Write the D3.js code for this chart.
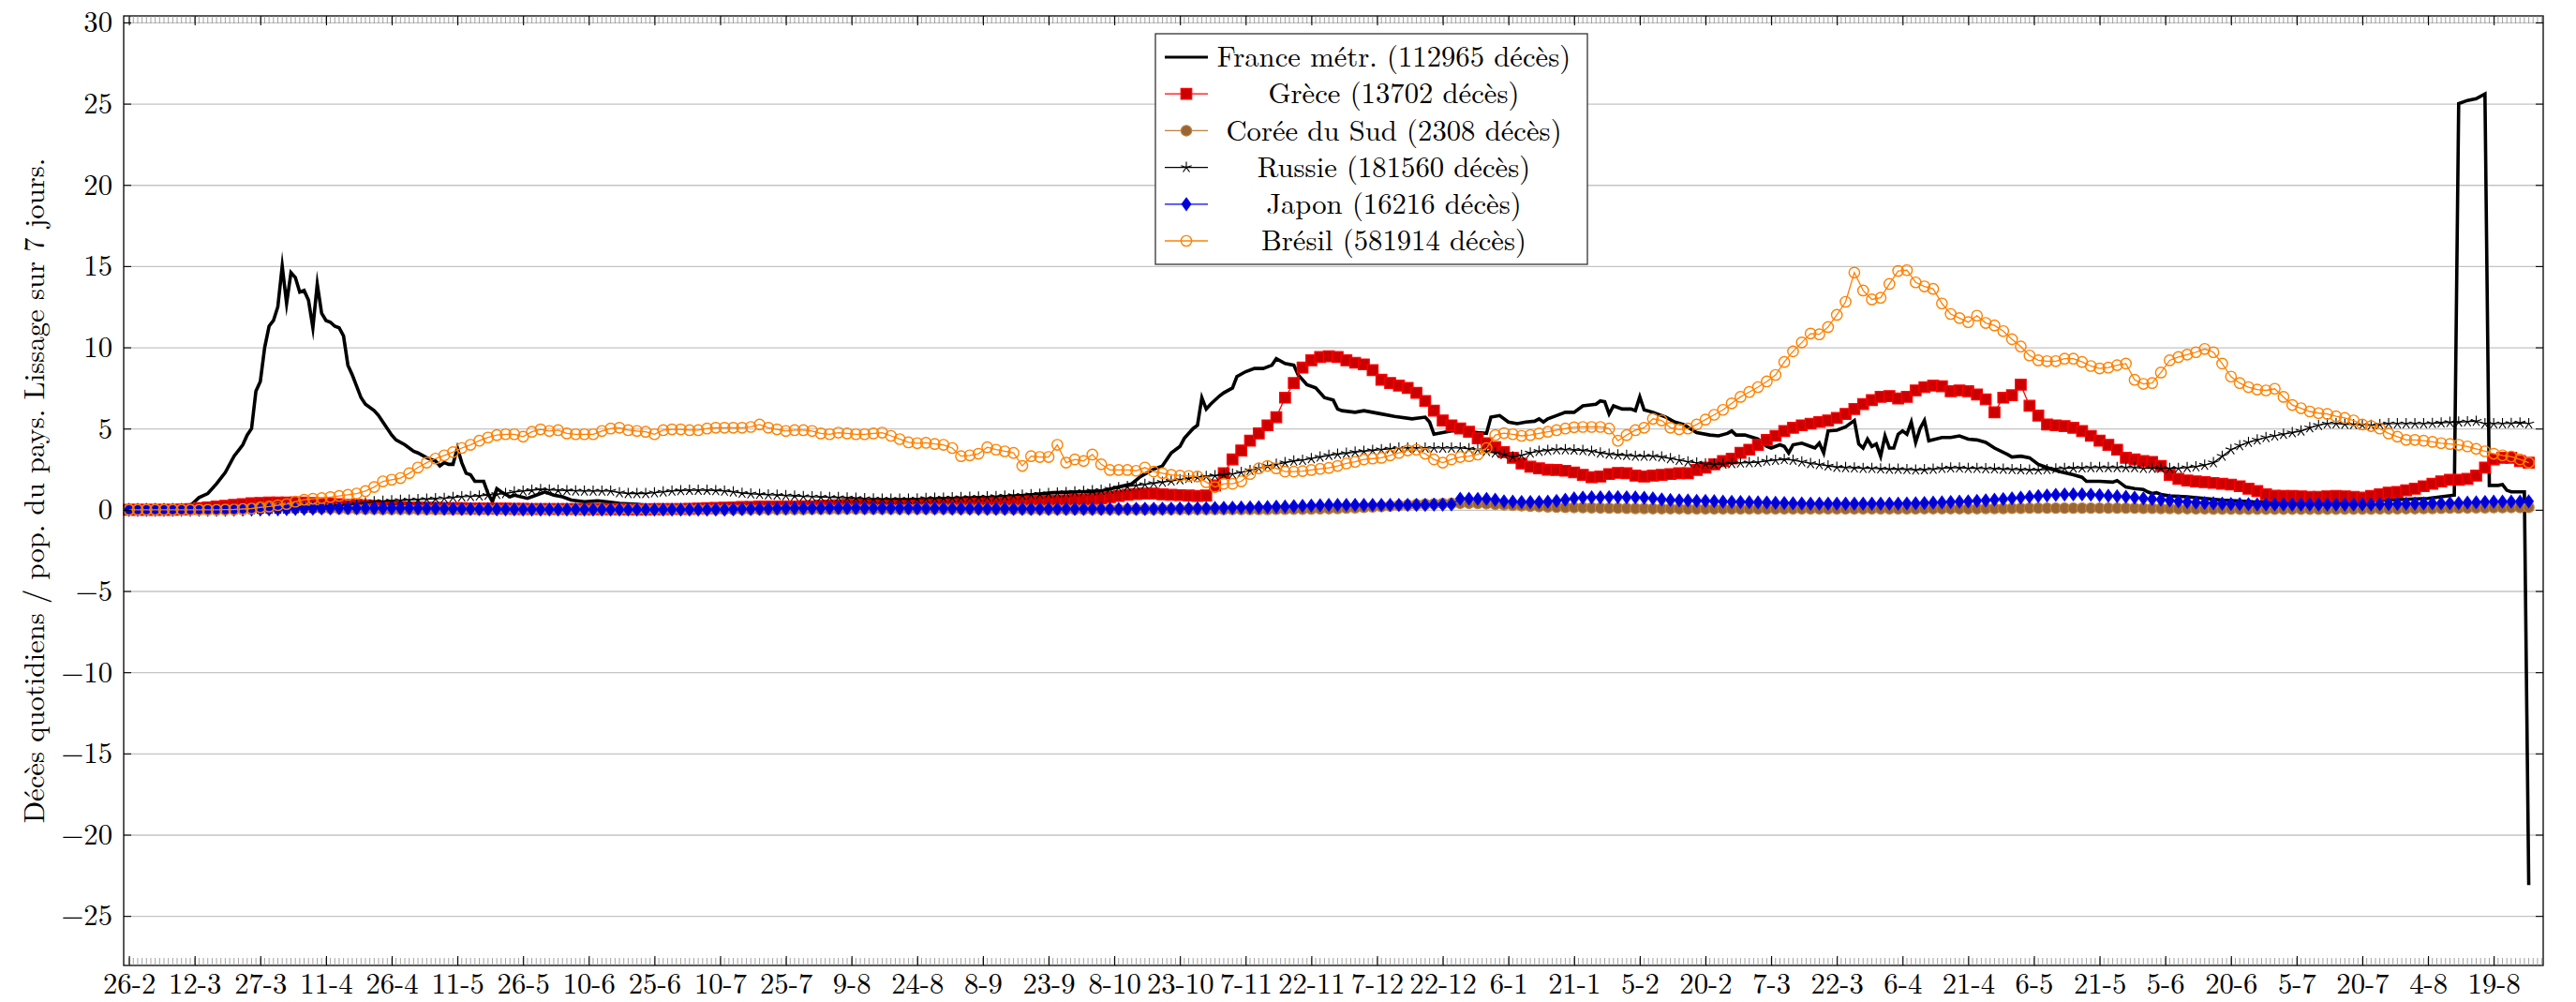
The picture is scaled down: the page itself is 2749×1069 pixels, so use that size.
<!DOCTYPE html>
<html>
<head>
<meta charset="utf-8">
<script src="https://cdn.jsdelivr.net/npm/d3@7/dist/d3.min.js"></script>
<style>
body { margin: 0; background: #fff; }
</style>
</head>
<body>
<div id="graph"></div>
<script>
const WIDTH = 2749
const HEIGHT = 1069
const LEFT = 132
const RIGHT = 2714
const TOP = 17
const BOTTOM = 1030
const FONT = 30.7
const FAMILY = '"Latin Modern Roman", "Liberation Serif", serif'
const STEP = 2

const xTickLabels = ['26-2', '12-3', '27-3', '11-4', '26-4', '11-5', '26-5', '10-6', '25-6', '10-7', '25-7', '9-8', '24-8',
    '8-9', '23-9', '8-10', '23-10', '7-11', '22-11', '7-12', '22-12', '6-1', '21-1', '5-2', '20-2', '7-3', '22-3', '6-4',
    '21-4', '6-5', '21-5', '5-6', '20-6', '5-7', '20-7', '4-8', '19-8']
const yTicks = [-25, -20, -15, -10, -5, 0, 5, 10, 15, 20, 25, 30]
const yLabel = 'Décès quotidiens / pop. du pays. Lissage sur 7 jours.'
const names = ['France métr. (112965 décès)', 'Grèce (13702 décès)', 'Corée du Sud (2308 décès)',
    'Russie (181560 décès)', 'Japon (16216 décès)', 'Brésil (581914 décès)']

// France: [day since 26-2-2020, value]
const france = [[0, 0], [12, 0.02], [14, 0.25], [16, 0.75], [18, 1.0], [20, 1.6], [22, 2.3], [24, 3.3], [26, 4.0], [27, 4.6],
    [28, 5.0], [29, 7.3], [30, 7.9], [31, 10.0], [32, 11.3], [33, 11.65], [34, 12.5], [35, 15.0], [36, 12.7], [37, 14.6],
    [38, 14.3], [39, 13.4], [40, 13.5], [41, 12.9], [42, 11.2], [43, 13.9], [44, 12.1], [45, 11.65], [46, 11.55], [47, 11.3],
    [48, 11.2], [49, 10.7], [50, 8.9], [51, 8.3], [52, 7.6], [53, 6.9], [54, 6.5], [56, 6.1], [57, 5.8], [59, 5.0],
    [60, 4.6], [61, 4.3], [63, 4.0], [65, 3.6], [66, 3.5], [68, 3.2], [70, 3.0], [71, 2.7], [72, 2.9], [73, 2.8],
    [74, 2.8], [75, 3.8], [76, 2.9], [77, 2.25], [78, 2.15], [79, 1.75], [81, 1.75], [82, 1.0], [83, 0.5], [84, 1.3],
    [85, 1.1], [87, 0.8], [88, 0.9], [91, 0.7], [93, 0.9], [95, 1.1], [97, 0.9], [99, 0.8], [101, 0.6], [104, 0.5],
    [107, 0.55], [109, 0.5], [112, 0.4], [116, 0.33], [120, 0.25], [133, 0.25], [135, 0.35], [137, 0.3], [150, 0.25],
    [165, 0.28], [175, 0.35], [183, 0.45], [195, 0.7], [205, 0.9], [211, 1.05], [222, 1.15], [226, 1.4], [229, 1.6],
    [231, 2.05], [234, 2.5], [236, 2.7], [238, 3.5], [240, 3.9], [241, 4.4], [243, 5.0], [244, 5.2], [245, 6.9], [246, 6.2],
    [247, 6.5], [249, 7.0], [250, 7.2], [252, 7.5], [253, 8.2], [255, 8.5], [257, 8.7], [259, 8.7], [261, 8.9], [262, 9.3],
    [264, 9.0], [266, 8.9], [267, 8.3], [269, 7.7], [271, 7.5], [273, 6.9], [275, 6.75], [276, 6.2], [277, 6.1], [280, 6.0],
    [282, 6.1], [284, 6.0], [286, 5.9], [289, 5.75], [293, 5.6], [296, 5.7], [297, 5.4], [298, 4.65], [300, 4.75], [302, 4.85],
    [305, 4.85], [308, 4.75], [310, 4.7], [311, 5.7], [313, 5.8], [315, 5.4], [317, 5.3], [319, 5.4], [321, 5.45], [322, 5.6],
    [323, 5.4], [324, 5.6], [326, 5.8], [328, 6.0], [330, 6.0], [332, 6.4], [335, 6.5], [336, 6.7], [337, 6.65], [338, 5.9],
    [339, 6.4], [341, 6.2], [343, 6.2], [344, 6.1], [345, 6.95], [346, 6.15], [348, 6.0], [351, 5.7], [353, 5.4], [355, 5.25],
    [358, 4.75], [361, 4.6], [363, 4.55], [365, 4.7], [366, 4.85], [367, 4.6], [369, 4.6], [372, 4.35], [374, 3.9], [375, 3.8],
    [377, 4.0], [378, 3.9], [379, 3.5], [380, 4.0], [382, 4.1], [384, 3.9], [385, 3.8], [386, 4.1], [387, 3.5], [388, 4.85],
    [390, 4.9], [392, 5.1], [394, 5.5], [395, 4.05], [396, 3.8], [397, 4.35], [398, 3.9], [399, 4.05], [400, 3.3], [401, 4.55],
    [402, 3.8], [403, 3.8], [404, 4.65], [405, 4.85], [406, 4.65], [407, 5.4], [408, 4.15], [409, 5.0], [410, 5.5], [411, 4.25],
    [414, 4.45], [416, 4.45], [418, 4.55], [420, 4.35], [422, 4.3], [424, 4.15], [426, 3.8], [429, 3.4], [430, 3.25], [432, 3.3],
    [434, 3.2], [436, 2.8], [439, 2.5], [441, 2.35], [444, 2.15], [446, 2.0], [447, 1.75], [450, 1.75], [453, 1.7], [454, 1.8],
    [456, 1.4], [458, 1.3], [460, 1.25], [461, 1.1], [462, 1.0], [463, 1.05], [464, 0.95], [466, 0.85], [470, 0.8], [474, 0.7],
    [478, 0.6], [485, 0.5], [495, 0.45], [505, 0.5], [515, 0.6], [525, 0.7], [528, 0.8], [531, 0.9], [532, 25.0], [534, 25.2],
    [536, 25.3], [538, 25.6], [539, 1.5], [541, 1.5], [542, 1.55], [543, 1.2], [544, 1.1], [547, 1.1], [548, -23.1]]

// the other countries: one value every STEP days from 26-2-2020
const greece = [
    0, 0, 0, 0, 0, 0, 0.02, 0.05, 0.1, 0.15,
    0.2, 0.25, 0.3, 0.35, 0.4, 0.42, 0.45, 0.45, 0.45, 0.45,
    0.45, 0.42, 0.4, 0.38, 0.35, 0.32, 0.3, 0.28, 0.25, 0.22,
    0.2, 0.18, 0.15, 0.15, 0.12, 0.12, 0.1, 0.1, 0.1, 0.08,
    0.08, 0.08, 0.07, 0.07, 0.06, 0.06, 0.05, 0.05, 0.05, 0.05,
    0.05, 0.05, 0.04, 0.04, 0.04, 0.04, 0.04, 0.03, 0.03, 0.03,
    0.04, 0.04, 0.05, 0.05, 0.06, 0.08, 0.1, 0.12, 0.13, 0.15,
    0.17, 0.18, 0.2, 0.2, 0.2, 0.2, 0.2, 0.22, 0.22, 0.24,
    0.26, 0.28, 0.3, 0.3, 0.32, 0.33, 0.34, 0.35, 0.36, 0.37,
    0.38, 0.39, 0.4, 0.42, 0.43, 0.45, 0.46, 0.47, 0.48, 0.5,
    0.5, 0.52, 0.53, 0.54, 0.55, 0.55, 0.57, 0.58, 0.6, 0.62,
    0.66, 0.7, 0.78, 0.85, 0.92, 0.97, 1.0, 1.0, 0.95, 0.92,
    0.9, 0.88, 0.85, 0.88, 1.5, 2.25, 3.1, 3.65, 4.25, 4.7,
    5.2, 5.7, 6.9, 7.8, 8.75, 9.2, 9.4, 9.45, 9.4, 9.2,
    9.05, 8.95, 8.6, 8.0, 7.8, 7.65, 7.5, 7.2, 6.7, 6.1,
    5.5, 5.2, 5.0, 4.8, 4.4, 4.1, 3.85, 3.55, 3.2, 2.85,
    2.65, 2.55, 2.47, 2.45, 2.4, 2.3, 2.15, 2.0, 2.05, 2.2,
    2.27, 2.25, 2.1, 2.05, 2.1, 2.15, 2.2, 2.25, 2.25, 2.45,
    2.6, 2.8, 3.0, 3.15, 3.5, 3.7, 4.0, 4.3, 4.55, 4.85,
    5.05, 5.2, 5.3, 5.4, 5.5, 5.65, 5.9, 6.2, 6.5, 6.75,
    6.95, 7.0, 6.85, 6.95, 7.35, 7.55, 7.65, 7.6, 7.3, 7.35,
    7.3, 7.1, 6.8, 6.0, 6.9, 7.05, 7.7, 6.4, 5.8, 5.25,
    5.2, 5.15, 5.05, 4.85, 4.55, 4.25, 4.0, 3.7, 3.2, 3.1,
    3.0, 2.95, 2.7, 2.15, 1.9, 1.8, 1.75, 1.7, 1.65, 1.6,
    1.55, 1.45, 1.3, 1.15, 0.95, 0.87, 0.85, 0.85, 0.83, 0.8,
    0.8, 0.83, 0.85, 0.83, 0.8, 0.75, 0.85, 0.95, 1.05, 1.1,
    1.2, 1.3, 1.45, 1.6, 1.75, 1.85, 1.85, 1.9, 2.1, 2.6,
    3.1, 3.2, 3.2, 3.0, 2.9]

const korea = [
    0, 0, 0, 0, 0, 0, 0, 0, 0, 0,
    0, 0.01, 0.02, 0.04, 0.06, 0.08, 0.1, 0.1, 0.1, 0.1,
    0.1, 0.09, 0.08, 0.07, 0.06, 0.05, 0.04, 0.03, 0.03, 0.02,
    0.02, 0.02, 0.02, 0.01, 0.01, 0.01, 0.01, 0.01, 0.01, 0.01,
    0.01, 0.01, 0.01, 0.01, 0.01, 0.01, 0.01, 0.01, 0.01, 0.01,
    0.01, 0.01, 0.01, 0.01, 0.01, 0.01, 0.01, 0.01, 0.01, 0.01,
    0.01, 0.01, 0.01, 0.01, 0.01, 0.01, 0.01, 0.01, 0.01, 0.01,
    0.01, 0.01, 0.01, 0.01, 0.01, 0.02, 0.02, 0.02, 0.03, 0.03,
    0.03, 0.03, 0.04, 0.04, 0.04, 0.04, 0.04, 0.04, 0.04, 0.05,
    0.05, 0.05, 0.05, 0.05, 0.05, 0.04, 0.04, 0.04, 0.03, 0.03,
    0.03, 0.03, 0.03, 0.02, 0.02, 0.02, 0.02, 0.02, 0.02, 0.02,
    0.02, 0.02, 0.02, 0.02, 0.02, 0.02, 0.02, 0.02, 0.02, 0.02,
    0.02, 0.02, 0.02, 0.02, 0.02, 0.02, 0.02, 0.02, 0.02, 0.02,
    0.02, 0.03, 0.03, 0.04, 0.04, 0.05, 0.06, 0.07, 0.08, 0.1,
    0.12, 0.15, 0.18, 0.2, 0.23, 0.26, 0.29, 0.32, 0.34, 0.36,
    0.38, 0.39, 0.4, 0.4, 0.39, 0.37, 0.34, 0.31, 0.28, 0.25,
    0.22, 0.2, 0.18, 0.16, 0.15, 0.14, 0.13, 0.12, 0.11, 0.1,
    0.1, 0.09, 0.08, 0.08, 0.07, 0.07, 0.07, 0.07, 0.06, 0.06,
    0.06, 0.06, 0.06, 0.06, 0.06, 0.06, 0.06, 0.06, 0.06, 0.06,
    0.06, 0.06, 0.06, 0.06, 0.06, 0.06, 0.06, 0.06, 0.06, 0.06,
    0.06, 0.06, 0.06, 0.06, 0.06, 0.07, 0.07, 0.07, 0.07, 0.07,
    0.07, 0.07, 0.08, 0.08, 0.08, 0.09, 0.09, 0.1, 0.1, 0.1,
    0.1, 0.1, 0.1, 0.1, 0.1, 0.1, 0.1, 0.1, 0.1, 0.1,
    0.09, 0.09, 0.08, 0.08, 0.07, 0.07, 0.06, 0.06, 0.05, 0.05,
    0.05, 0.04, 0.04, 0.04, 0.04, 0.04, 0.04, 0.04, 0.04, 0.04,
    0.04, 0.04, 0.04, 0.05, 0.05, 0.05, 0.05, 0.06, 0.06, 0.06,
    0.07, 0.07, 0.08, 0.08, 0.09, 0.1, 0.1, 0.11, 0.12, 0.12,
    0.13, 0.13, 0.14, 0.14, 0.15]

const russia = [
    0, 0, 0, 0, 0, 0, 0, 0, 0, 0,
    0, 0.01, 0.01, 0.02, 0.02, 0.03, 0.03, 0.04, 0.05, 0.07,
    0.1, 0.12, 0.15, 0.2, 0.25, 0.3, 0.35, 0.42, 0.5, 0.52,
    0.55, 0.58, 0.6, 0.62, 0.65, 0.68, 0.7, 0.75, 0.8, 0.82,
    0.85, 0.9, 0.95, 1.0, 1.1, 1.15, 1.2, 1.25, 1.22, 1.2,
    1.18, 1.16, 1.15, 1.15, 1.15, 1.15, 1.05, 1.0, 1.0, 1.0,
    1.05, 1.1, 1.15, 1.18, 1.2, 1.2, 1.2, 1.18, 1.15, 1.1,
    1.02, 0.98, 0.95, 0.92, 0.9, 0.87, 0.85, 0.82, 0.8, 0.78,
    0.76, 0.75, 0.73, 0.71, 0.69, 0.67, 0.66, 0.65, 0.65, 0.65,
    0.67, 0.7, 0.71, 0.72, 0.74, 0.75, 0.77, 0.78, 0.8, 0.82,
    0.85, 0.88, 0.9, 0.93, 0.96, 1.0, 1.03, 1.06, 1.1, 1.13,
    1.17, 1.2, 1.28, 1.36, 1.43, 1.5, 1.56, 1.63, 1.7, 1.77,
    1.85, 1.93, 2.0, 2.05, 2.1, 2.15, 2.2, 2.3, 2.42, 2.55,
    2.7, 2.8, 2.9, 3.0, 3.05, 3.15, 3.25, 3.35, 3.42, 3.48,
    3.55, 3.6, 3.65, 3.7, 3.75, 3.8, 3.8, 3.8, 3.8, 3.8,
    3.8, 3.8, 3.8, 3.75, 3.7, 3.6, 3.5, 3.4, 3.25, 3.35,
    3.5, 3.6, 3.65, 3.7, 3.7, 3.68, 3.65, 3.6, 3.5, 3.42,
    3.38, 3.35, 3.3, 3.3, 3.3, 3.25, 3.15, 3.05, 2.95, 2.88,
    2.82, 2.8, 2.82, 2.85, 2.88, 2.9, 2.92, 3.0, 3.05, 3.1,
    3.05, 2.95, 2.85, 2.78, 2.7, 2.62, 2.6, 2.58, 2.55, 2.55,
    2.52, 2.5, 2.5, 2.48, 2.45, 2.47, 2.5, 2.55, 2.58, 2.58,
    2.55, 2.55, 2.53, 2.52, 2.5, 2.48, 2.47, 2.45, 2.45, 2.48,
    2.52, 2.55, 2.57, 2.58, 2.6, 2.6, 2.6, 2.6, 2.6, 2.6,
    2.55, 2.55, 2.55, 2.55, 2.55, 2.6, 2.65, 2.75, 2.9, 3.3,
    3.7, 3.95, 4.15, 4.3, 4.45, 4.55, 4.65, 4.75, 4.85, 5.05,
    5.2, 5.3, 5.3, 5.27, 5.25, 5.22, 5.2, 5.25, 5.3, 5.3,
    5.3, 5.3, 5.3, 5.32, 5.35, 5.38, 5.4, 5.42, 5.45, 5.3,
    5.3, 5.3, 5.32, 5.35, 5.3]

const japan = [
    0, 0, 0, 0, 0, 0, 0, 0, 0, 0,
    0, 0, 0.01, 0.01, 0.02, 0.02, 0.03, 0.03, 0.04, 0.05,
    0.06, 0.07, 0.08, 0.09, 0.1, 0.1, 0.1, 0.1, 0.1, 0.1,
    0.1, 0.1, 0.1, 0.09, 0.08, 0.08, 0.07, 0.06, 0.05, 0.05,
    0.04, 0.04, 0.03, 0.03, 0.03, 0.02, 0.02, 0.02, 0.02, 0.02,
    0.02, 0.02, 0.02, 0.01, 0.01, 0.01, 0.01, 0.01, 0.01, 0.01,
    0.01, 0.01, 0.01, 0.01, 0.01, 0.01, 0.01, 0.02, 0.02, 0.03,
    0.04, 0.05, 0.06, 0.07, 0.08, 0.09, 0.1, 0.1, 0.1, 0.1,
    0.11, 0.11, 0.11, 0.11, 0.1, 0.1, 0.1, 0.1, 0.09, 0.09,
    0.09, 0.08, 0.08, 0.08, 0.07, 0.07, 0.07, 0.06, 0.06, 0.06,
    0.06, 0.05, 0.05, 0.05, 0.05, 0.05, 0.05, 0.05, 0.05, 0.05,
    0.05, 0.05, 0.05, 0.05, 0.05, 0.06, 0.06, 0.06, 0.07, 0.07,
    0.08, 0.08, 0.09, 0.1, 0.11, 0.12, 0.13, 0.14, 0.15, 0.16,
    0.17, 0.19, 0.2, 0.22, 0.24, 0.26, 0.28, 0.3, 0.3, 0.3,
    0.3, 0.3, 0.3, 0.3, 0.3, 0.3, 0.3, 0.3, 0.3, 0.32,
    0.32, 0.33, 0.68, 0.68, 0.67, 0.67, 0.62, 0.52, 0.5, 0.48,
    0.48, 0.48, 0.5, 0.55, 0.62, 0.7, 0.75, 0.77, 0.77, 0.78,
    0.78, 0.77, 0.76, 0.74, 0.7, 0.64, 0.6, 0.58, 0.57, 0.55,
    0.55, 0.53, 0.5, 0.49, 0.48, 0.47, 0.46, 0.45, 0.43, 0.42,
    0.4, 0.39, 0.38, 0.38, 0.38, 0.38, 0.38, 0.38, 0.38, 0.38,
    0.38, 0.38, 0.38, 0.39, 0.4, 0.42, 0.44, 0.46, 0.48, 0.5,
    0.52, 0.55, 0.58, 0.62, 0.66, 0.7, 0.75, 0.8, 0.84, 0.88,
    0.92, 0.94, 0.95, 0.95, 0.93, 0.9, 0.86, 0.83, 0.8, 0.75,
    0.7, 0.66, 0.62, 0.57, 0.52, 0.48, 0.44, 0.42, 0.4, 0.38,
    0.36, 0.35, 0.34, 0.33, 0.33, 0.33, 0.33, 0.32, 0.32, 0.32,
    0.32, 0.32, 0.32, 0.32, 0.33, 0.33, 0.33, 0.34, 0.35, 0.36,
    0.37, 0.38, 0.39, 0.4, 0.4, 0.41, 0.42, 0.44, 0.46, 0.48,
    0.5, 0.5, 0.5, 0.5, 0.52]

const brazil = [
    0, 0, 0, 0, 0, 0, 0, 0, 0, 0,
    0, 0.01, 0.02, 0.05, 0.08, 0.15, 0.2, 0.28, 0.35, 0.5,
    0.62, 0.68, 0.72, 0.78, 0.85, 0.92, 1.0, 1.15, 1.4, 1.75,
    1.85, 1.95, 2.25, 2.6, 2.9, 3.15, 3.35, 3.55, 3.8, 4.0,
    4.25, 4.45, 4.6, 4.65, 4.65, 4.5, 4.8, 4.95, 4.85, 4.9,
    4.7, 4.65, 4.65, 4.65, 4.85, 5.0, 5.05, 4.9, 4.85, 4.8,
    4.65, 4.9, 4.95, 4.95, 4.9, 4.9, 5.0, 5.05, 5.05, 5.05,
    5.05, 5.1, 5.25, 5.05, 4.95, 4.85, 4.9, 4.9, 4.85, 4.7,
    4.65, 4.75, 4.7, 4.65, 4.65, 4.7, 4.75, 4.55, 4.35, 4.15,
    4.1, 4.12, 4.05, 4.0, 3.8, 3.3, 3.35, 3.45, 3.85, 3.7,
    3.6, 3.5, 2.7, 3.3, 3.25, 3.25, 4.0, 2.9, 3.1, 3.0,
    3.4, 2.8, 2.45, 2.45, 2.45, 2.4, 2.6, 2.35, 2.25, 2.15,
    2.1, 2.08, 2.05, 1.7, 1.4, 1.6, 1.6, 1.75, 2.2, 2.55,
    2.7, 2.55, 2.35, 2.35, 2.38, 2.45, 2.52, 2.58, 2.7, 2.85,
    2.95, 3.1, 3.15, 3.2, 3.35, 3.5, 3.65, 3.7, 3.45, 3.1,
    2.9, 3.1, 3.25, 3.3, 3.4, 3.8, 4.6, 4.72, 4.65, 4.55,
    4.6, 4.7, 4.8, 4.9, 5.0, 5.08, 5.1, 5.1, 5.1, 5.0,
    4.25, 4.6, 4.9, 5.05, 5.6, 5.5, 5.05, 4.95, 5.0, 5.25,
    5.55, 5.85, 6.15, 6.55, 6.95, 7.25, 7.55, 7.9, 8.3, 9.1,
    9.75, 10.3, 10.85, 10.8, 11.25, 12.0, 12.8, 14.6, 13.5, 12.95,
    13.05, 13.9, 14.7, 14.75, 14.0, 13.75, 13.6, 12.7, 12.05, 11.8,
    11.55, 11.95, 11.5, 11.35, 11.0, 10.5, 10.05, 9.5, 9.2, 9.15,
    9.15, 9.3, 9.3, 9.1, 8.85, 8.7, 8.75, 8.9, 9.0, 8.0,
    7.75, 7.8, 8.45, 9.2, 9.4, 9.55, 9.7, 9.9, 9.7, 9.0,
    8.2, 7.8, 7.55, 7.4, 7.35, 7.45, 6.95, 6.45, 6.25, 6.05,
    5.95, 5.9, 5.75, 5.65, 5.5, 5.25, 5.15, 5.0, 4.7, 4.5,
    4.3, 4.3, 4.25, 4.18, 4.1, 4.05, 4.0, 3.9, 3.75, 3.6,
    3.45, 3.35, 3.28, 3.1, 2.9]

const main = _ => {

    const x = d3.scaleLinear().domain([-1.2, 551.3]).range([LEFT, RIGHT])
    const y = d3.scaleLinear().domain([-28.05, 30.4]).range([BOTTOM, TOP])

    const svg = d3.select('#graph')
        .append('svg')
        .attr('width', WIDTH)
        .attr('height', HEIGHT)
        .attr('font-family', FAMILY)
        .style('display', 'block')

    svg.append('rect').attr('width', WIDTH).attr('height', HEIGHT).attr('fill', '#fff')

    // horizontal grid
    svg.append('g')
        .attr('transform', `translate(${LEFT},0)`)
        .call(d3.axisLeft(y).tickValues(yTicks).tickSize(-(RIGHT - LEFT)).tickFormat(''))
        .call(g => g.select('.domain').remove())
        .selectAll('line')
        .attr('stroke', '#c4c4c4')
        .attr('stroke-width', 1.3)

    const plot = svg.append('g')

    const square = d3.symbol(d3.symbolSquare, 132)()
    const circle = d3.symbol(d3.symbolCircle, 100)()
    const diamond = 'M0,-6.6L4.8,0L0,6.6L-4.8,0Z'
    const star = d3.range(5).map(k => {
        const a = -Math.PI / 2 + k * 2 * Math.PI / 5
        return `M0,0L${(6 * Math.cos(a)).toFixed(2)},${(6 * Math.sin(a)).toFixed(2)}`
    }).join('')

    const series = [
        { name: names[0], data: france, color: '#000', width: 3.6 },
        { name: names[1], data: greece, color: '#ff0000', width: 1.3, mark: square, fill: '#cc0000', stroke: '#ff0000', sw: 1.2 },
        { name: names[2], data: korea, color: '#bf8040', width: 1.3, mark: circle, fill: '#996633', stroke: '#bf8040', sw: 1.2 },
        { name: names[3], data: russia, color: '#000', width: 1.2, mark: star, fill: 'none', stroke: '#000', sw: 1.1 },
        { name: names[4], data: japan, color: '#0000ff', width: 1.3, mark: diamond, fill: '#0000cc', stroke: '#0000ff', sw: 1.2 },
        { name: names[5], data: brazil, color: '#ff8000', width: 1.3, mark: circle, fill: 'none', stroke: '#ff8000', sw: 1.4 }
    ]

    const line = d3.line()
        .x(d => x(d[0]))
        .y(d => y(d[1]))

    series.forEach(s => {
        const points = s.mark ? s.data.map((v, i) => [i * STEP, v]) : s.data
        plot.append('path')
            .datum(points)
            .attr('d', line)
            .attr('fill', 'none')
            .attr('stroke', s.color)
            .attr('stroke-width', s.width)
            .attr('stroke-linejoin', 'miter')
            .attr('stroke-miterlimit', 10)
        if (!s.mark) return
        plot.append('g')
            .selectAll('path')
            .data(points)
            .enter()
            .append('path')
            .attr('d', s.mark)
            .attr('transform', d => `translate(${x(d[0])},${y(d[1])})`)
            .attr('fill', s.fill)
            .attr('stroke', s.stroke)
            .attr('stroke-width', s.sw)
    })

    // frame and ticks
    svg.append('rect')
        .attr('x', LEFT).attr('y', TOP)
        .attr('width', RIGHT - LEFT).attr('height', BOTTOM - TOP)
        .attr('fill', 'none')
        .attr('stroke', '#000')
        .attr('stroke-width', 1.3)

    const minor = d3.range(0, 552)
    ;[[BOTTOM, -8], [TOP, 8]].forEach(([yy, len]) => {
        svg.append('g')
            .selectAll('line')
            .data(minor)
            .enter()
            .append('line')
            .attr('x1', d => x(d)).attr('x2', d => x(d))
            .attr('y1', yy).attr('y2', yy + len)
            .attr('stroke', '#8c8c8c')
            .attr('stroke-width', 0.8)
    })

    const styleAxis = g => {
        g.select('.domain').remove()
        g.attr('font-family', FAMILY).attr('font-size', FONT)
        g.selectAll('text').attr('font-family', FAMILY).attr('font-size', FONT).attr('fill', '#000')
        g.selectAll('line').attr('stroke', '#000').attr('stroke-width', 1.1)
    }

    const xTicks = xTickLabels.map((_, i) => i * 15)

    svg.append('g')
        .attr('transform', `translate(0,${BOTTOM})`)
        .call(d3.axisBottom(x).tickValues(xTicks).tickFormat((d, i) => xTickLabels[i]).tickSize(-10).tickPadding(8))
        .call(styleAxis)

    svg.append('g')
        .attr('transform', `translate(0,${TOP})`)
        .call(d3.axisTop(x).tickValues(xTicks).tickFormat('').tickSize(-10))
        .call(styleAxis)

    svg.append('g')
        .attr('transform', `translate(${LEFT},0)`)
        .call(d3.axisLeft(y).tickValues(yTicks).tickSize(-8).tickPadding(12))
        .call(styleAxis)

    svg.append('g')
        .attr('transform', `translate(${RIGHT},0)`)
        .call(d3.axisRight(y).tickValues(yTicks).tickSize(-8).tickFormat(''))
        .call(styleAxis)

    svg.append('text')
        .attr('transform', `translate(47,${(TOP + BOTTOM) / 2}) rotate(-90)`)
        .attr('text-anchor', 'middle')
        .attr('font-family', FAMILY)
        .attr('font-size', FONT)
        .text(yLabel)

    // legend
    const legend = svg.append('g')
    legend.append('rect')
        .attr('x', 1233).attr('y', 36)
        .attr('width', 461).attr('height', 246)
        .attr('fill', '#fff')
        .attr('stroke', '#333')
        .attr('stroke-width', 1.3)

    series.forEach((s, i) => {
        const cy = 61 + i * 39.2
        legend.append('line')
            .attr('x1', 1243).attr('x2', 1289)
            .attr('y1', cy).attr('y2', cy)
            .attr('stroke', s.color)
            .attr('stroke-width', s.mark ? 1.3 : 3.2)
        if (s.mark) {
            legend.append('path')
                .attr('d', s.mark)
                .attr('transform', `translate(1266,${cy})`)
                .attr('fill', s.fill)
                .attr('stroke', s.stroke)
                .attr('stroke-width', s.sw)
        }
        legend.append('text')
            .attr('x', 1487.5).attr('y', cy)
            .attr('dy', '0.33em')
            .attr('text-anchor', 'middle')
            .attr('font-family', FAMILY)
            .attr('font-size', FONT)
            .text(s.name)
    })
}

document.addEventListener('DOMContentLoaded', main)
</script>
</body>
</html>
